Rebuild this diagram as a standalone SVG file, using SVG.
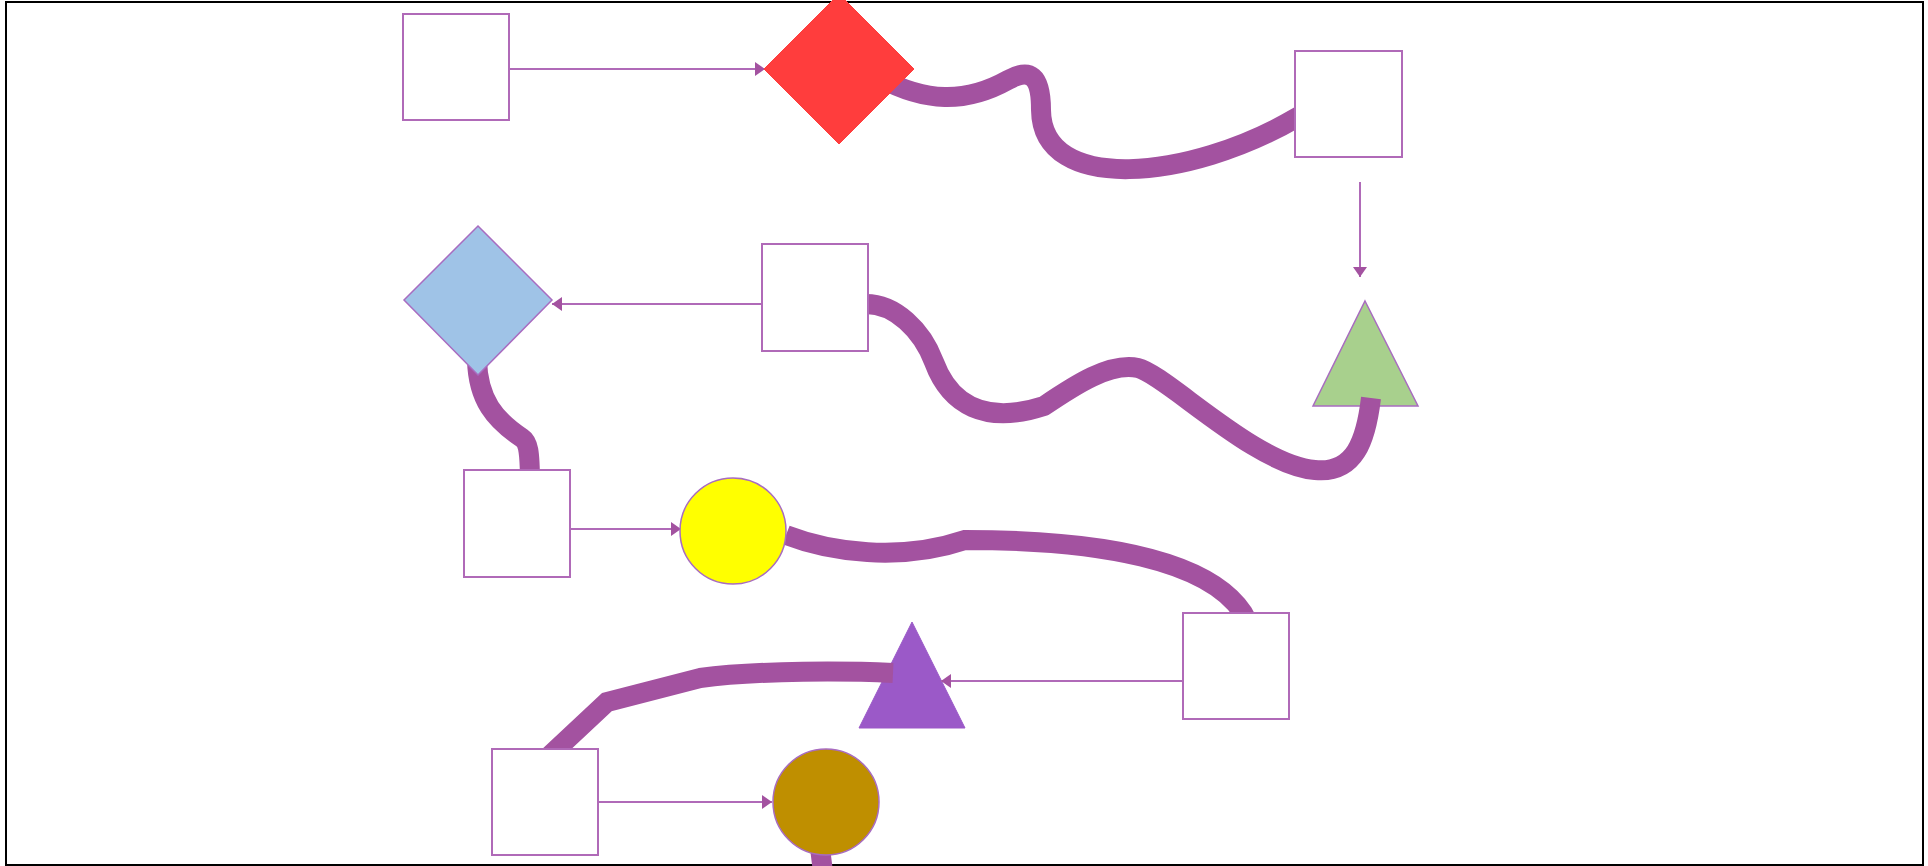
<svg xmlns="http://www.w3.org/2000/svg" width="1928" height="866" viewBox="0 0 1928 866">
<style>
.box{fill:#ffffff;stroke:#b06ab8;stroke-width:2}
.thin{fill:none;stroke:#b06ab8;stroke-width:2;marker-end:url(#arr)}
.thick{fill:none;stroke:#a352a0;stroke-width:20;stroke-linecap:butt}
.shape{stroke:#a86cc0;stroke-width:1.5}
</style>
<defs>
<marker id="arr" viewBox="0 0 10 14" refX="10" refY="7" markerWidth="10" markerHeight="14" markerUnits="userSpaceOnUse" orient="auto">
<path d="M0,0 L10,7 L0,14 Z" fill="#a352a0"/>
</marker>
</defs>
<rect x="0" y="0" width="1928" height="866" fill="#ffffff"/>
<rect x="6" y="2" width="1917" height="863" fill="none" stroke="#000000" stroke-width="2"/>
<g id="greenTriangle"><polygon class="shape" points="1365,301 1418,406 1313,406" fill="#a8d08d"/></g>
<g id="purpleTriangle"><polygon points="912,622 965,728 859,728" fill="#9b59c8" stroke="#9b59c8" stroke-width="1"/></g>
<g id="connectors">
<line class="thin" x1="509" y1="69" x2="765" y2="69"/>
<line class="thin" x1="1360" y1="182" x2="1360" y2="277"/>
<line class="thin" x1="762" y1="304" x2="552" y2="304"/>
<line class="thin" x1="570" y1="529" x2="681" y2="529"/>
<line class="thin" x1="1183" y1="681" x2="941" y2="681"/>
<line class="thin" x1="598" y1="802" x2="772" y2="802"/>
<path class="thick" d="M 880,78 C 925,102 965,104 1008,80 C 1030,68 1041,75 1041,110 C 1042,195 1190,180 1296,118 L 1312,109"/>
<path class="thick" d="M 850,304 L 866,304 C 895,304 922,330 934,362 C 950,405 985,425 1044,406 C 1075,385 1110,362 1138,368 C 1165,374 1255,465 1315,470 C 1355,474 1366,440 1371,398"/>
<path class="thick" d="M 477,360 C 478,400 495,420 522,438 C 528,442 530,450 530,485"/>
<path class="thick" d="M 786,535 C 830,552 900,562 965,540 C 1100,540 1208,560 1243,613 L 1251,628"/>
<path class="thick" d="M 893,673 C 850,671 760,670 700,678 L 607,702 L 545,760"/>
<path class="thick" d="M 819,840 L 823,872"/>
</g>
<g id="boxA"><rect class="box" x="403" y="14" width="106" height="106"/></g>
<g id="boxB"><rect class="box" x="1295" y="51" width="107" height="106"/></g>
<g id="boxC"><rect class="box" x="762" y="244" width="106" height="107"/></g>
<g id="boxD"><rect class="box" x="464" y="470" width="106" height="107"/></g>
<g id="boxE"><rect class="box" x="1183" y="613" width="106" height="106"/></g>
<g id="boxF"><rect class="box" x="492" y="749" width="106" height="106"/></g>
<g id="redDiamond"><polygon points="839,-6 914,69 839,144 764,69" fill="#ff3d3d" stroke="#ff3d3d" stroke-width="1"/></g>
<g id="blueDiamond"><polygon class="shape" points="478,226 552,300 478,375 404,300" fill="#9fc3e7"/></g>
<g id="yellowCircle"><circle class="shape" cx="733" cy="531" r="53" fill="#ffff00"/></g>
<g id="brownCircle"><circle class="shape" cx="826" cy="802" r="53" fill="#bf8f00"/></g>
</svg>
